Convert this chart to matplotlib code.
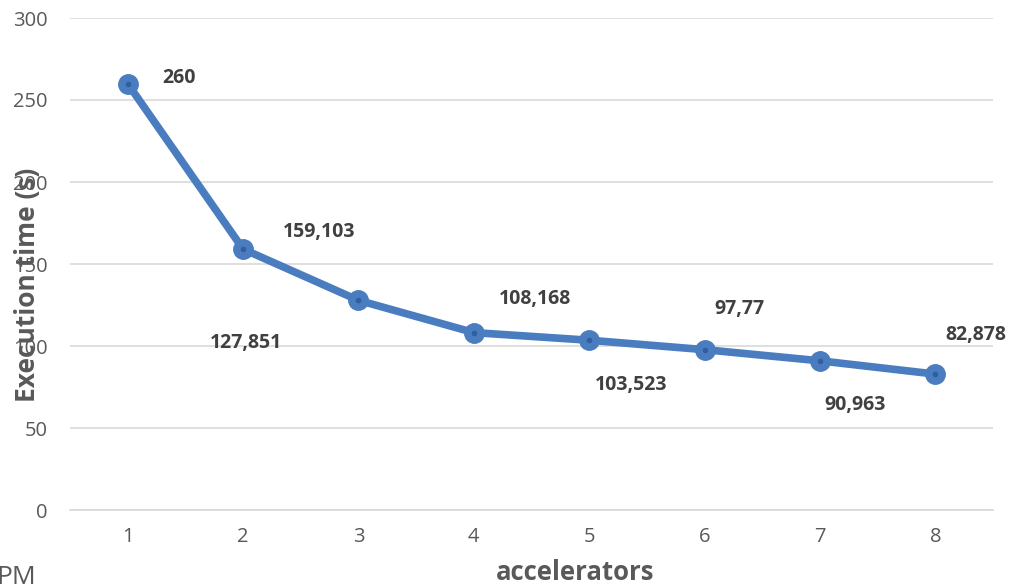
import matplotlib
matplotlib.use("Agg")
import matplotlib.pyplot as plt

# accelerator counts and measured execution times
accelerators = [1, 2, 3, 4, 5, 6, 7, 8]
exec_time = [260, 159.103, 127.851, 108.168, 103.523, 97.77, 90.963, 82.878]
value_labels = ["260", "159,103", "127,851", "108,168", "103,523", "97,77", "90,963", "82,878"]
# label offsets in points (dx, dy) relative to each marker
label_offsets = [(37, 4), (55, 12), (-81, -31), (44, 24), (30, -32), (25, 29), (25, -32), (29, 28)]
y_ticks = [0, 50, 100, 150, 200, 250, 300]

line_color = "#4a7dbf"
text_gray = "#595959"

fig = plt.figure(figsize=(10.17, 5.84), dpi=100)
ax = fig.add_axes([70 / 1017, 74 / 584, 923 / 1017, 492 / 584])

ax.plot(accelerators, exec_time, color=line_color, linewidth=5.5,
        marker="o", markersize=14, markerfacecolor=line_color,
        markeredgecolor=line_color, zorder=3, solid_capstyle="round")
ax.plot(accelerators, exec_time, linestyle="none", marker="o", markersize=3,
        color="#2f5f9e", zorder=4)

for x, y, txt, (dx, dy) in zip(accelerators, exec_time, value_labels, label_offsets):
    ax.annotate(txt, (x, y), xytext=(dx, dy), textcoords="offset points",
                ha="center", va="center", fontsize=14, fontweight="bold",
                color="#404040", family="Open Sans")

ax.set_xlim(0.5, 8.5)
ax.set_ylim(0, 300)
ax.set_yticks(y_ticks)
ax.set_xticks(accelerators)
ax.grid(axis="y", color="#d9d9d9", linewidth=1.2)
ax.set_axisbelow(True)
for side in ["top", "right", "left"]:
    ax.spines[side].set_visible(False)
ax.spines["bottom"].set_color("#d9d9d9")
ax.spines["bottom"].set_linewidth(1.2)
ax.tick_params(axis="both", length=0, labelsize=14.5, labelcolor=text_gray)
ax.tick_params(axis="y", pad=16)
ax.tick_params(axis="x", pad=12)
for lbl in ax.get_xticklabels() + ax.get_yticklabels():
    lbl.set_family("Open Sans")

fig.text(575 / 1017, 1 - 572 / 584, "accelerators", ha="center", va="center",
         fontsize=18.5, fontweight="bold", color=text_gray, family="Open Sans")
fig.text(28 / 1017, 1 - 285 / 584, "Execution time (s)", rotation=90,
         ha="center", va="center", fontsize=19, fontweight="bold",
         color=text_gray, family="Open Sans")
fig.text(-0.004, -0.01, "PM", fontsize=19, color=text_gray, family="Open Sans",
         ha="left", va="bottom")

fig.savefig("out.png", dpi=100)
